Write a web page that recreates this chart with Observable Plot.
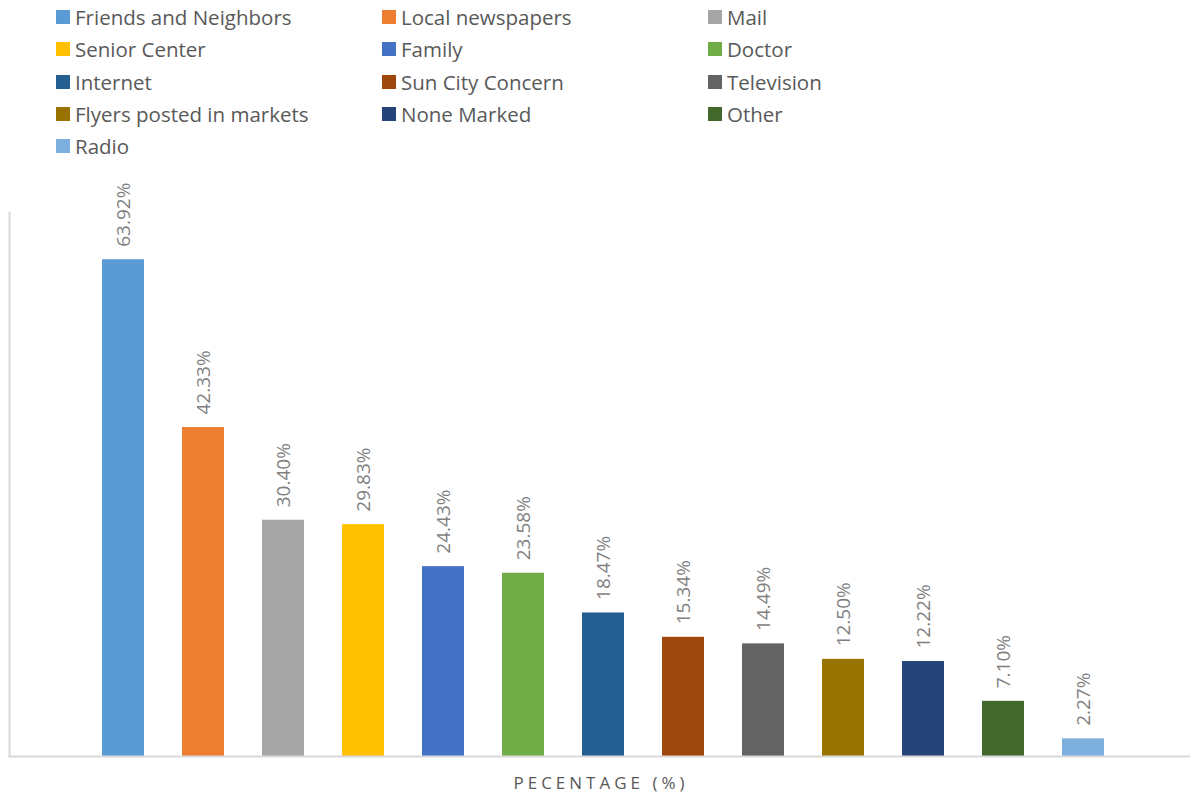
<!DOCTYPE html>
<html><head><meta charset="utf-8">
<script src="https://cdn.jsdelivr.net/npm/d3@7"></script>
<script src="https://cdn.jsdelivr.net/npm/@observablehq/plot@0.6"></script>
<style>
body{margin:0;background:#fff;font-family:"Open Sans",sans-serif;}
#legend{height:170px;box-sizing:border-box;padding:1px 0 0 56px;display:grid;grid-template-columns:326px 326px 326px;grid-auto-rows:32.3px;}
.item{display:flex;align-items:center;font-size:20.5px;color:#595959;white-space:nowrap;}
.sw{width:14px;height:14px;margin-right:5px;flex:none;}
#title{height:26px;line-height:26px;text-align:center;font-size:17px;letter-spacing:4px;color:#595959;padding-left:12px;}
</style></head>
<body>
<div id="legend"></div>
<div id="chart"></div>
<div id="title">PECENTAGE (%)</div>
<script>
const categories = ["Friends and Neighbors","Local newspapers","Mail","Senior Center","Family","Doctor","Internet","Sun City Concern","Television","Flyers posted in markets","None Marked","Other","Radio"];
const values = [63.92,42.33,30.40,29.83,24.43,23.58,18.47,15.34,14.49,12.50,12.22,7.10,2.27];
const colors = ["#5B9BD5","#ED7D31","#A5A5A5","#FFC000","#4472C4","#70AD47","#255E91","#9E480E","#636363","#997300","#264478","#43682B","#7CAFDD"];

const data = categories.map((c,i)=>({category:c,value:values[i]}));

const legend = document.getElementById("legend");
categories.forEach((c,i)=>{
  const d = document.createElement("div"); d.className="item";
  d.innerHTML = `<span class="sw" style="background:${colors[i]}"></span><span>${c}</span>`;
  legend.appendChild(d);
});

const chart = Plot.plot({
  width:1190, height:600,
  marginTop:42, marginBottom:14, marginLeft:9, marginRight:0,
  style:{fontFamily:"'Open Sans',sans-serif"},
  x:{domain:categories, range:[102,1104], paddingInner:0.475, paddingOuter:0, axis:null},
  y:{domain:[0,70], axis:null},
  color:{domain:categories, range:colors},
  marks:[
    Plot.barY(data,{x:"category",y:"value",fill:"category"}),
    Plot.text(data,{x:"category",y:"value",text:d=>d.value.toFixed(2)+"%",rotate:-90,textAnchor:"start",lineAnchor:"middle",dy:-13,fill:"#7f7f7f",fontSize:19}),
    Plot.frame({anchor:"left",stroke:"#d9d9d9",strokeWidth:2,strokeOpacity:1}),
    Plot.frame({anchor:"bottom",stroke:"#d9d9d9",strokeWidth:2,strokeOpacity:1})
  ]
});
document.getElementById("chart").appendChild(chart);
</script>
</body></html>
